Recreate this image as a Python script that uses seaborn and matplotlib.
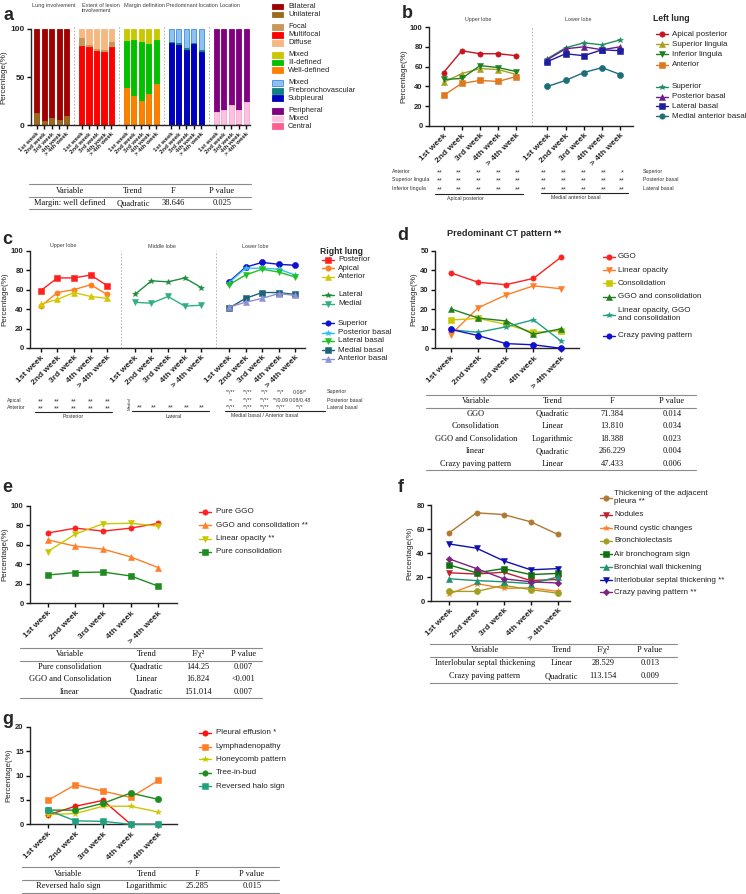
import numpy as np
import seaborn as sns
import matplotlib.pyplot as plt
from matplotlib.patches import Rectangle

sns.set_style("ticks")
plt.rcParams['font.family'] = ['Liberation Sans', 'DejaVu Sans']
plt.rcParams['axes.linewidth'] = 1.0
plt.rcParams['xtick.major.width'] = 1.0
plt.rcParams['ytick.major.width'] = 1.0

W, H = 746, 894
semanas = ["1st week", "2nd week", "3rd week", "4th week", "> 4th week"]

# ---------------- datos panel a (barras apiladas, de abajo hacia arriba)
grupos_a = ["Lung involvement", "Extent of lesion\ninvolvement", "Margin definition",
            "Predominant location", "Location"]
unilateral = [13, 4, 8, 6, 10]
bilateral = [87, 96, 92, 94, 90]
multifocal = [82, 81, 77, 76, 81]
focal = [8, 2, 2, 2, 5]
difuso = [10, 17, 21, 22, 14]
well_def = [39, 30, 25, 32, 43]
ill_def = [48, 58, 61, 52, 45]
mixed_margin = [13, 12, 14, 16, 12]
subpleural = [85, 83, 78, 84, 76]
prebronco = [1, 2, 2, 1, 2]
mixed_pred = [14, 15, 20, 15, 22]
central = [0, 0, 0, 1, 0]
mixed_loc = [14, 16, 21, 15, 24]
periferico = [86, 84, 79, 84, 76]

# ---------------- datos panel b (pulmon izquierdo)
apical_post = [54, 76, 73, 73, 71]
sup_lingula = [44, 53, 58, 57, 52]
inf_lingula = [47, 48, 61, 59, 55]
anterior_b = [31, 43, 46, 45, 50]
superior_b = [68, 79, 84, 82, 87]
post_basal_b = [67, 78, 80, 77, 80]
lat_basal_b = [65, 73, 71, 77, 76]
med_ant_basal = [40, 46, 54, 59, 52]

# ---------------- datos panel c (pulmon derecho)
posterior_c = [59, 72, 72, 75, 64]
apical_c = [43, 57, 60, 65, 55]
anterior_c = [45, 50, 57, 53, 51]
lateral_c = [55, 69, 68, 72, 62]
medial_c = [47, 46, 53, 43, 44]
superior_c = [68, 83, 88, 86, 85]
post_basal_c = [67, 82, 82, 81, 75]
lat_basal_c = [65, 75, 81, 78, 73]
med_basal_c = [41, 51, 57, 57, 55]
ant_basal_c = [42, 47, 51, 56, 54]

# ---------------- datos panel d
ggo_d = [38.7, 33.8, 32.6, 35.8, 46.7]
linear_d = [7.0, 20.8, 27.3, 32.0, 30.5]
consol_d = [14.5, 15.3, 12.3, 8.2, 9.0]
ggo_consol_d = [20.2, 15.5, 14.0, 7.2, 10.0]
lin_ggo_consol_d = [9.5, 8.2, 11.0, 14.6, 3.7]
crazy_d = [9.7, 6.5, 2.4, 1.8, 0.0]

# ---------------- datos panel e
pure_ggo = [72, 77, 74, 77, 82]
ggo_consol_e = [65, 58.5, 55.5, 47.5, 36.5]
linear_e = [53, 71, 81.5, 82, 79]
pure_consol = [29, 31.5, 32, 28, 17.5]

# ---------------- datos panel f
pleura = [57, 73.5, 72, 66, 55.5]
nodulos = [23.5, 22.5, 24, 17, 18]
quistes = [6, 14.5, 10.5, 11, 8]
bronquiolectasia = [8, 8, 13, 9.5, 6.5]
broncograma = [30, 23.5, 27, 22, 23]
pared_bronquial = [18.5, 17, 16, 14.5, 20]
septal = [47.5, 44, 33.5, 26, 27]
crazy_f = [35, 27, 18.5, 16, 15]

# ---------------- datos panel g
derrame = [1.9, 3.7, 4.9, 0, 0]
linfadenopatia = [4.9, 8.1, 6.8, 5.5, 9.0]
panal = [2.0, 2.2, 3.7, 3.7, 2.5]
arbol_brote = [2.9, 2.9, 4.3, 6.4, 5.1]
halo_inverso = [2.9, 0.7, 0.6, 0, 0]

# ---------------- tablas
cab_tabla = ["Variable", "Trend", "F", "P value"]
cab_tabla_chi = ["Variable", "Trend", "F/χ²", "P value"]
tabla_a = [["Margin: well defined", "Quadratic", "38.646", "0.025"]]
tabla_d = [["GGO", "Quadratic", "71.384", "0.014"],
           ["Consolidation", "Linear", "13.810", "0.034"],
           ["GGO and Consolidation", "Logarithmic", "18.388", "0.023"],
           ["linear", "Quadratic", "266.229", "0.004"],
           ["Crazy paving pattern", "Linear", "47.433", "0.006"]]
tabla_e = [["Pure consolidation", "Quadratic", "144.25", "0.007"],
           ["GGO and Consolidation", "Linear", "16.824", "<0.001"],
           ["linear", "Quadratic", "151.014", "0.007"]]
tabla_f = [["Interlobular septal thickening", "Linear", "28.529", "0.013"],
           ["Crazy paving pattern", "Quadratic", "113.154", "0.009"]]
tabla_g = [["Reversed halo sign", "Logarithmic", "25.285", "0.015"]]

fig = plt.figure(figsize=(W / 100, H / 100), dpi=100)


def caja(x0, y0, x1, y1):
    return [x0 / W, 1 - y1 / H, (x1 - x0) / W, (y1 - y0) / H]


def estilo_eje(ax, ymax, paso, pos_x, etiquetas, fs_x=6, fs_y=5.5):
    ax.set_ylim(0, ymax)
    ax.set_yticks(np.arange(0, ymax + 1, paso))
    ax.set_yticklabels([str(int(v)) for v in np.arange(0, ymax + 1, paso)],
                       fontsize=fs_y, fontweight="bold")
    ax.set_xticks(pos_x)
    ax.set_xticklabels(etiquetas, rotation=45, ha="right", rotation_mode="anchor",
                       fontsize=fs_x, fontweight="bold")
    ax.tick_params(length=3, pad=1.5, color="#111111")
    ax.set_ylabel("Percentage(%)", fontsize=5.8, labelpad=2)
    ax.set_xlabel("")
    sns.despine(ax=ax)


def linea(ax, xs, ys, color, marker, ms=3.8):
    sns.lineplot(x=xs, y=ys, ax=ax, color=color, marker=marker, markersize=ms,
                 markeredgewidth=0.4, markeredgecolor=color, linewidth=1.0,
                 clip_on=False, zorder=3)


pos5 = np.arange(5)

# ---------------------------------------------------------------- panel a
ax_a = fig.add_axes(caja(31, 28.7, 250, 125.3))
capas_a = [
    [(unilateral, "#9C6A1E", "#9C6A1E"), (bilateral, "#A00000", "#A00000")],
    [(multifocal, "#FF0000", "#FF0000"), (focal, "#C8965A", "#C8965A"), (difuso, "#F5B880", "#F5B880")],
    [(well_def, "#FF8000", "#FF8000"), (ill_def, "#00C000", "#00C000"), (mixed_margin, "#C8C800", "#C8C800")],
    [(subpleural, "#0000C0", "#0000C0"), (prebronco, "#108080", "#108080"), (mixed_pred, "#8EC0F0", "#3C8CE6")],
    [(central, "#FF6090", "#FF6090"), (mixed_loc, "#FFC0E0", "#FFC0E0"), (periferico, "#800080", "#800080")],
]
ticks_a = []
for g, capas in enumerate(capas_a):
    xs = pos5 + 6 * g
    ticks_a += list(xs)
    acumulado = np.cumsum([np.array(v, dtype=float) for v, _, _ in capas], axis=0)
    # dibujo de arriba hacia abajo para que cada capa tape a la anterior
    for k in range(len(capas) - 1, -1, -1):
        sns.barplot(x=xs, y=acumulado[k], ax=ax_a, native_scale=True, width=0.68,
                    color=capas[k][1], edgecolor=capas[k][2], linewidth=0.6,
                    saturation=1, errorbar=None, zorder=2)
for sep in [5, 11, 17, 23]:
    ax_a.axvline(sep, ymin=0, ymax=1.04, color="#AAAAAA", ls=(0, (2, 2)), lw=0.6, clip_on=False)
ax_a.set_xlim(-0.75, 28.5)
estilo_eje(ax_a, 100, 50, ticks_a, semanas * 5, fs_x=4.4, fs_y=6)

# ---------------------------------------------------------------- panel b
ax_b = fig.add_axes(caja(429, 27, 633, 126))
sup_x = pos5
inf_x = pos5 + 5.7
linea(ax_b, sup_x, apical_post, "#C8141E", "o")
linea(ax_b, sup_x, sup_lingula, "#A8A020", "^")
linea(ax_b, sup_x, inf_lingula, "#1E801E", "v")
linea(ax_b, sup_x, anterior_b, "#E07820", "s")
linea(ax_b, inf_x, superior_b, "#1E9060", "*", ms=4.4)
linea(ax_b, inf_x, post_basal_b, "#6A1E8C", "^")
linea(ax_b, inf_x, lat_basal_b, "#1E1EA0", "s")
linea(ax_b, inf_x, med_ant_basal, "#1E6E78", "o", ms=4.4)
ax_b.axvline(4.85, color="#AAAAAA", ls=(0, (2, 2)), lw=0.6)
ax_b.set_xlim(-0.8, 10.4)
estilo_eje(ax_b, 100, 20, list(sup_x) + list(inf_x), semanas * 2)

# ---------------------------------------------------------------- panel c
ax_c = fig.add_axes(caja(30, 250.7, 305, 348))
up_x = pos5
mid_x = pos5 + 5.66
low_x = pos5 + 11.32
linea(ax_c, up_x, posterior_c, "#FF2020", "s")
linea(ax_c, up_x, apical_c, "#FF7F20", "o")
linea(ax_c, up_x, anterior_c, "#D4C800", "^")
linea(ax_c, mid_x, lateral_c, "#1E8C3C", "*", ms=4.4)
linea(ax_c, mid_x, medial_c, "#30B080", "v")
linea(ax_c, low_x, superior_c, "#1010D0", "o", ms=4.4)
linea(ax_c, low_x, post_basal_c, "#30C0F0", "*", ms=4.4)
linea(ax_c, low_x, lat_basal_c, "#20C020", "v")
linea(ax_c, low_x, med_basal_c, "#1E6478", "s", ms=4.4)
linea(ax_c, low_x, ant_basal_c, "#9090D8", "^")
ax_c.axvline(4.81, color="#AAAAAA", ls=(0, (2, 2)), lw=0.6)
ax_c.axvline(10.54, color="#AAAAAA", ls=(0, (2, 2)), lw=0.6)
ax_c.set_xlim(-0.65, 15.9)
estilo_eje(ax_c, 100, 20, list(up_x) + list(mid_x) + list(low_x), semanas * 3)

# ---------------------------------------------------------------- panel d
ax_d = fig.add_axes(caja(435, 250.7, 579, 348.3))
linea(ax_d, pos5, ggo_d, "#FF2020", "o")
linea(ax_d, pos5, linear_d, "#FF7F27", "v")
linea(ax_d, pos5, consol_d, "#C8C800", "s")
linea(ax_d, pos5, ggo_consol_d, "#208020", "^")
linea(ax_d, pos5, lin_ggo_consol_d, "#20A080", "*", ms=4.4)
linea(ax_d, pos5, crazy_d, "#1010D0", "o", ms=4.4)
ax_d.set_xlim(-0.57, 4.65)
estilo_eje(ax_d, 50, 10, pos5, semanas)

# ---------------------------------------------------------------- panel e
ax_e = fig.add_axes(caja(30, 505.7, 176.7, 603.3))
linea(ax_e, pos5, pure_ggo, "#FF2020", "o")
linea(ax_e, pos5, ggo_consol_e, "#FF7F27", "^")
linea(ax_e, pos5, linear_e, "#C8C800", "v")
linea(ax_e, pos5, pure_consol, "#1E8C1E", "s")
ax_e.set_xlim(-0.64, 4.66)
estilo_eje(ax_e, 100, 20, pos5, semanas)

# ---------------------------------------------------------------- panel f
ax_f = fig.add_axes(caja(431, 505, 570, 601))
linea(ax_f, pos5, pleura, "#B07830", "o")
linea(ax_f, pos5, nodulos, "#C02030", "v")
linea(ax_f, pos5, quistes, "#FF7F27", "*", ms=4.4)
linea(ax_f, pos5, bronquiolectasia, "#A0A020", "o", ms=4.4)
linea(ax_f, pos5, broncograma, "#107010", "s", ms=4.4)
linea(ax_f, pos5, pared_bronquial, "#209070", "^")
linea(ax_f, pos5, septal, "#1010B0", "v", ms=4.4)
linea(ax_f, pos5, crazy_f, "#802080", "D", ms=3.3)
ax_f.set_xlim(-0.68, 4.45)
estilo_eje(ax_f, 80, 20, pos5, semanas)

# ---------------------------------------------------------------- panel g
ax_g = fig.add_axes(caja(30, 726.7, 176.7, 824.3))
linea(ax_g, pos5, derrame, "#FF1010", "o")
linea(ax_g, pos5, linfadenopatia, "#FF7F27", "s")
linea(ax_g, pos5, panal, "#C8C800", "*", ms=4.4)
linea(ax_g, pos5, arbol_brote, "#1E8C1E", "o", ms=4.6)
linea(ax_g, pos5, halo_inverso, "#20A080", "s", ms=4.4)
ax_g.set_xlim(-0.64, 4.66)
estilo_eje(ax_g, 20, 5, pos5, semanas)

# ---------------------------------------------------------------- capa de anotaciones en pixeles
ov = fig.add_axes([0, 0, 1, 1])
ov.set_xlim(0, W)
ov.set_ylim(H, 0)
ov.axis("off")
ov.patch.set_alpha(0)

# letras de panel
for letra, x, y in [("a", 8, 15), ("b", 407, 13), ("c", 7, 240), ("d", 403, 236),
                    ("e", 7, 487), ("f", 401, 487), ("g", 8, 720)]:
    ov.text(x, y, letra, fontsize=13, fontweight="bold", ha="center", va="center")

# titulos de grupos
for txt, x in zip(grupos_a, [32, 82, 124, 166, 219]):
    ov.text(x, 3, txt, fontsize=4.0, color="#404040", ha="left", va="top", linespacing=1.1)
for txt, x in [("Upper lobe", 478), ("Lower lobe", 578)]:
    ov.text(x, 19.5, txt, fontsize=3.9, color="#404040", ha="center", va="center")
for txt, x in [("Upper lobe", 63), ("Middle lobe", 162), ("Lower lobe", 255)]:
    ov.text(x, 246, txt, fontsize=3.9, color="#404040", ha="center", va="center")
ov.text(447, 234, "Predominant CT pattern **", fontsize=6.6, fontweight="bold", ha="left", va="center")


# leyenda de barras (panel a)
etiquetas_a = ["Bilateral", "Unilateral", "Focal", "Multifocal", "Diffuse", "Mixed", "Ill-defined",
               "Well-defined", "Mixed", "Prebronchovascular", "Subpleural", "Peripheral", "Mixed", "Central"]
colores_a = [("#A00000", "#A00000"), ("#9C6A1E", "#9C6A1E"), ("#C8965A", "#C8965A"), ("#FF0000", "#FF0000"),
             ("#F5B880", "#F5B880"), ("#C8C800", "#C8C800"), ("#00C000", "#00C000"), ("#FF8000", "#FF8000"),
             ("#8EC0F0", "#3C8CE6"), ("#108080", "#108080"), ("#0000C0", "#0000C0"), ("#800080", "#800080"),
             ("#FFC0E0", "#FFC0E0"), ("#FF6090", "#FF6090")]
ys_a = [6.5, 14.5, 27, 35, 43, 55, 62.5, 70, 83, 91, 98, 111, 118.5, 126]
for lab, (fc, ec), y in zip(etiquetas_a, colores_a, ys_a):
    ov.add_patch(Rectangle((272, y - 2.6), 11, 5.2, facecolor=fc, edgecolor=ec, lw=0.6))
    ov.text(288, y, lab, fontsize=5.4, va="center", ha="left", color="#222222")


def leyenda(x0, x_txt, ys, etiquetas, colores, marcadores, fs=5.8, ancho=12):
    for y, lab, col, m in zip(ys, etiquetas, colores, marcadores):
        ms = 3.3 if m == "D" else 3.9
        ov.plot([x0, x0 + ancho], [y, y], color=col, lw=1.0)
        ov.plot([x0 + ancho / 2], [y], marker=m, color=col, ms=ms, markeredgewidth=0.4)
        ov.text(x_txt, y, lab, fontsize=fs, va="center", ha="left", color="#222222", linespacing=1.15)


ov.text(653, 18.3, "Left lung", fontsize=6.2, fontweight="bold", va="center")
leyenda(656, 672, [34, 44, 54, 65, 87, 97, 106, 116],
        ["Apical posterior", "Superior lingula", "Inferior lingula", "Anterior",
         "Superior", "Posterior basal", "Lateral basal", "Medial anterior basal"],
        ["#C8141E", "#A8A020", "#1E801E", "#E07820", "#1E9060", "#6A1E8C", "#1E1EA0", "#1E6E78"],
        ["o", "^", "v", "s", "*", "^", "s", "o"])

ov.text(320, 252, "Right lung", fontsize=6.2, fontweight="bold", va="center")
leyenda(322, 338, [259.5, 268, 276.5, 294.5, 303.5, 323.3, 332.7, 341, 350, 359],
        ["Posterior", "Apical", "Anterior", "Lateral", "Medial",
         "Superior", "Posterior basal", "Lateral basal", "Medial basal", "Anterior basal"],
        ["#FF2020", "#FF7F20", "#D4C800", "#1E8C3C", "#30B080",
         "#1010D0", "#30C0F0", "#20C020", "#1E6478", "#9090D8"],
        ["s", "o", "^", "*", "v", "o", "*", "v", "s", "^"])

leyenda(603, 618, [256.7, 270.3, 283.3, 296.7, 314.7, 335.7],
        ["GGO", "Linear opacity", "Consolidation", "GGO and consolidation",
         "Linear opacity, GGO\nand consolidation", "Crazy paving pattern"],
        ["#FF2020", "#FF7F27", "#C8C800", "#208020", "#20A080", "#1010D0"],
        ["o", "v", "s", "^", "*", "o"])

leyenda(199, 215.7, [511.7, 525.3, 538.7, 551.7],
        ["Pure GGO", "GGO and consolidation **", "Linear opacity **", "Pure consolidation"],
        ["#FF2020", "#FF7F27", "#C8C800", "#1E8C1E"], ["o", "^", "v", "s"])

leyenda(600, 614, [497.7, 515, 528.3, 541, 554.3, 567.3, 580, 592],
        ["Thickening of the adjacent\npleura **", "Nodules", "Round cystic changes", "Bronchiolectasis",
         "Air bronchogram sign", "Bronchial wall thickening", "Interlobular septal thickening **",
         "Crazy paving pattern **"],
        ["#B07830", "#C02030", "#FF7F27", "#A0A020", "#107010", "#209070", "#1010B0", "#802080"],
        ["o", "v", "*", "o", "s", "^", "v", "D"])

leyenda(199, 215.7, [732.7, 746.7, 759.3, 772.7, 786],
        ["Pleural effusion *", "Lymphadenopathy", "Honeycomb pattern", "Tree-in-bud", "Reversed halo sign"],
        ["#FF1010", "#FF7F27", "#C8C800", "#1E8C1E", "#20A080"], ["o", "s", "*", "o", "s"])

# ---------------- significancias bajo b
fs_s = 3.8
fs_st = 5.2
gris = "#333333"
for lab, y in [("Anterior", 171.7), ("Superior lingula", 179.3), ("Inferior lingula", 188.3)]:
    ov.text(392, y, lab, fontsize=fs_s, va="center", color=gris)
    for x in [440, 459, 479, 499, 518]:
        ov.text(x, y + 1.3, "**", fontsize=fs_st, ha="center", va="center", color=gris)
estrellas_inf = [["**", "**", "**", "**", "*"], ["**"] * 5, ["**"] * 5]
for lab, y, fila in zip(["Superior", "Posterior basal", "Lateral basal"], [172, 179.5, 188.3], estrellas_inf):
    ov.text(643, y, lab, fontsize=fs_s, va="center", color=gris)
    for x, s in zip([544, 564, 584, 604, 622], fila):
        ov.text(x, y + 1.3, s, fontsize=fs_st, ha="center", va="center", color=gris)
ov.plot([435, 523], [194, 194], color="#222222", lw=0.8)
ov.plot([541, 628], [193, 193], color="#222222", lw=0.8)
ov.text(465, 198.5, "Apical posterior", fontsize=fs_s, ha="center", va="center", color=gris)
ov.text(576, 197.5, "Medial anterior basal", fontsize=fs_s, ha="center", va="center", color=gris)

# ---------------- significancias bajo c
for lab, y in [("Apical", 400.7), ("Anterior", 407.3)]:
    ov.text(7, y, lab, fontsize=fs_s, va="center", color=gris)
    for x in [40.7, 56.7, 73.3, 90.7, 107.3]:
        ov.text(x, y + 1.3, "**", fontsize=fs_st, ha="center", va="center", color=gris)
ov.plot([35, 112], [411.7, 411.7], color="#222222", lw=0.8)
ov.text(73, 416.7, "Posterior", fontsize=fs_s, ha="center", va="center", color=gris)
ov.text(130, 404, "Medial", fontsize=3.2, rotation=90, ha="center", va="center", color=gris)
for x in [140, 154, 171, 187, 202]:
    ov.text(x, 408, "**", fontsize=fs_st, ha="center", va="center", color=gris)
ov.plot([132, 209], [411.3, 411.3], color="#222222", lw=0.8)
ov.text(174, 416.7, "Lateral", fontsize=fs_s, ha="center", va="center", color=gris)
filas_c = [["**/**", "**/**", "**/*", "**/*", "0.08/*"],
           ["**", "**/**", "**/**", "**/0.09", "0.08/0.48"],
           ["**/**", "**/**", "**/**", "**/**", "**/*"]]
for lab, y, fila in zip(["Superior", "Posterior basal", "Lateral basal"], [392, 400, 407.3], filas_c):
    ov.text(327, y, lab, fontsize=fs_s, va="center", color=gris)
    for x, s in zip([230.7, 248, 265, 281, 300], fila):
        ov.text(x, y + 0.6, s, fontsize=3.8, ha="center", va="center", color=gris)
ov.plot([225, 325], [411, 411], color="#222222", lw=0.8)
ov.text(265, 415.5, "Medial basal / Anterior basal", fontsize=fs_s, ha="center", va="center", color=gris)


# ---------------- tablas
def tabla(x0, x1, y_top, alto, cols, cabecera, filas, fs=6):
    n = len(filas) + 1
    for yl in [y_top, y_top + alto, y_top + alto * n]:
        ov.plot([x0, x1], [yl, yl], color="#8A8A8A", lw=0.8)
    for i, fila in enumerate([cabecera] + filas):
        yc = y_top + alto * (i + 0.5)
        for x, t in zip(cols, fila):
            ov.text(x, yc, t, fontsize=fs, ha="center", va="center",
                    family=["Liberation Serif", "DejaVu Serif"], color="#111111")


tabla(29, 251, 184.3, 12.5, [70, 133, 173, 222], cab_tabla, tabla_a)
tabla(426, 696, 395, 12.5, [476, 552.7, 612.3, 671.7], cab_tabla, tabla_d)
tabla(20, 262, 648, 12.5, [70, 146.7, 198.3, 243.3], cab_tabla_chi, tabla_e)
tabla(430, 677, 643.5, 13, [485, 561.7, 603.3, 650], cab_tabla_chi, tabla_f)
tabla(22, 279, 867.3, 12.6, [68.3, 146.7, 196.7, 251.7], cab_tabla, tabla_g)

fig.savefig("out.png", dpi=100)
